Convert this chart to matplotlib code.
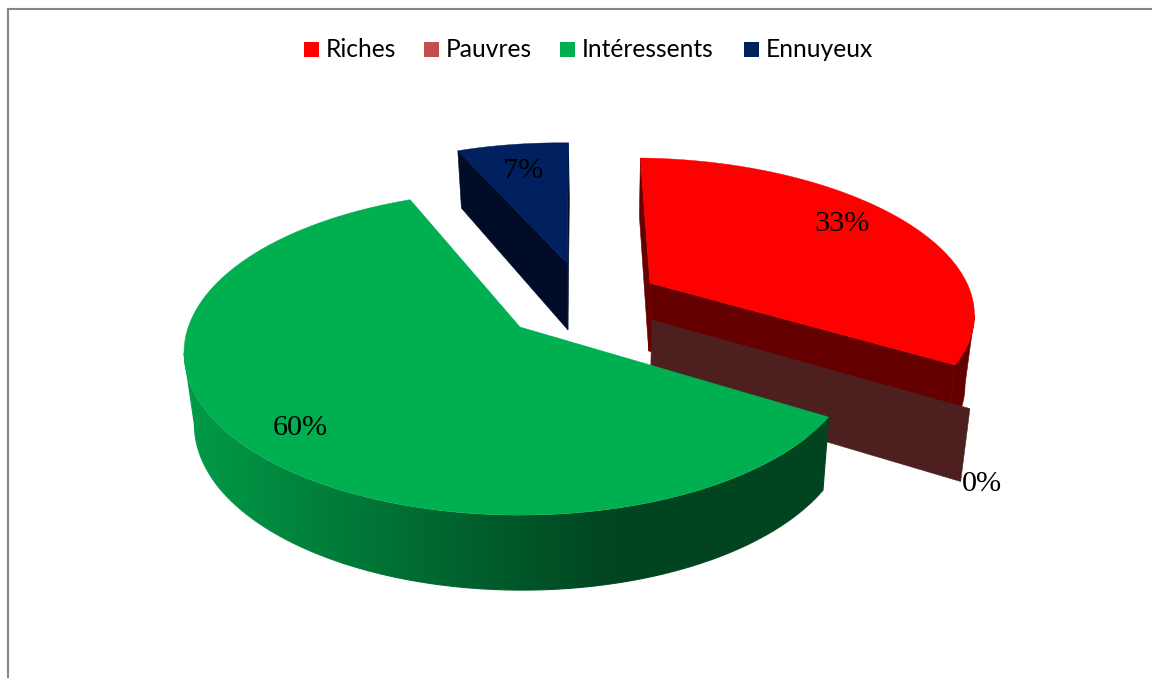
import numpy as np
import matplotlib
matplotlib.use("Agg")
import matplotlib.pyplot as plt
from matplotlib.patches import Polygon, Rectangle
from matplotlib.collections import LineCollection

# ---- data ----
categories = ["Riches", "Pauvres", "Intéressents", "Ennuyeux"]
values = [33.3, 0, 60.05, 6.65]
percent_labels = ["33%", "0%", "60%", "7%"]

# ---- styles ----
top_colors = ["#FF0000", "#C0504D", "#00B050", "#002060"]
side_colors = ["#650000", "#4D1F1F", "#00441F", "#000C28"]
explode_x = [0.410, 0.400, 0.0, 0.152]
explode_y = [-0.291, -0.045, 0.0, -0.433]
label_xy = [(842, 224), (982, 484), (300, 428), (523, 171)]
legend_marker_x = [304, 424, 560, 744]
legend_text_x = [326, 446, 582, 766]

START = 1.6
CX, CY, A, B, K = 520.0, 327.0, 331.7, 158.0, 0.16
BOTTOM_SCALE, BOTTOM_SHIFT = 0.975, 2.0


def project(X, Y):
    w = 1 - K * Y
    return A * X / w, B * Y / w


def top_pts(X, Y):
    xp, yp = project(np.asarray(X, float), np.asarray(Y, float))
    return np.column_stack([CX + xp, CY + yp])


def bottom_pts(X, Y):
    xp, yp = project(np.asarray(X, float), np.asarray(Y, float))
    depth = np.interp(yp, [-180, -64, 0, 85, 188], [57, 67, 70, 73, 75])
    return np.column_stack([CX + BOTTOM_SHIFT + BOTTOM_SCALE * xp, CY + yp + depth])


def rim(i, a0, a1, n=160):
    t = np.radians(np.linspace(a0, a1, n))
    return explode_x[i] + np.sin(t), explode_y[i] - np.cos(t)


def radial_face(ax, i, ang, z):
    tx, ty = rim(i, ang, ang, 1)
    px, py = [explode_x[i]], [explode_y[i]]
    pts = np.vstack([top_pts(px, py), top_pts(tx, ty), bottom_pts(tx, ty), bottom_pts(px, py)])
    c = side_colors[i]
    ax.add_patch(Polygon(pts, closed=True, fc=c, ec=c, lw=0.4, zorder=z))


def rim_face(ax, i, a0, a1, z):
    # only the part of the rim from the right-hand silhouette point to the slice end is visible
    X, Y = rim(i, a0, a1, 240)
    t, b = top_pts(X, Y), bottom_pts(X, Y)
    k = int(np.argmax(t[:, 0]))
    t, b = t[k:], b[k:]
    c = side_colors[i]
    ax.add_patch(Polygon(np.vstack([t, b[::-1]]), closed=True, fc=c, ec=c, lw=0.4, zorder=z))


GRAD_X = [190, 300, 470, 620, 830]
GRAD_G = [155, 132, 96, 68, 68]
GRAD_B = [72, 60, 45, 32, 32]


def shade(x):
    return np.column_stack([np.zeros_like(x), np.interp(x, GRAD_X, GRAD_G) / 255, np.interp(x, GRAD_X, GRAD_B) / 255])


def rim_face_gradient(ax, i, a0, a1, z):
    # only the part from the slice start to the left-hand silhouette point is visible
    X, Y = rim(i, a0, a1, 360)
    t, b = top_pts(X, Y), bottom_pts(X, Y)
    k = int(np.argmin(t[:, 0]))
    t, b = t[:k + 1], b[:k + 1]
    clip = Polygon(np.vstack([t, b[::-1]]), closed=True, transform=ax.transData, fc="none", ec="none")
    xs = np.arange(170.0, 850.0)
    img = shade(xs)[np.newaxis, :, :]
    im = ax.imshow(img, extent=[170, 850, 620, 300], aspect="auto", interpolation="bilinear", zorder=z)
    ax.add_patch(clip)
    im.set_clip_path(clip)
    # smooth outer outline on top of the clipped gradient
    segs = np.stack([b[:-1], b[1:]], axis=1)
    ax.add_collection(LineCollection(segs, colors=shade(segs[:, 0, 0]), linewidths=0.8, zorder=z))
    for e in (np.array([t[0], b[0]]), np.array([t[-1], b[-1]])):
        ax.plot(e[:, 0], e[:, 1], color=shade(e[:1, 0])[0], lw=0.8, zorder=z)


def top_face(ax, i, a0, a1, z):
    X, Y = rim(i, a0, a1, 200)
    pts = np.vstack([top_pts([explode_x[i]], [explode_y[i]]), top_pts(X, Y)])
    ax.add_patch(Polygon(pts, closed=True, fc=top_colors[i], ec=top_colors[i], lw=0.3, zorder=z))


fig = plt.figure(figsize=(11.52, 6.78), dpi=100, facecolor="white")
ax = fig.add_axes([0, 0, 1, 1])
ax.axis("off")

# chart frame runs past the right and bottom of the picture
ax.add_patch(Rectangle((8.3, 9.2), 1300, 800, fc="white", ec="#868686", lw=1.5, zorder=0))

edges = START + np.cumsum([0] + [v * 3.6 for v in values])

# Ennuyeux (back)
radial_face(ax, 3, edges[3], 1)
radial_face(ax, 3, edges[4], 1)
top_face(ax, 3, edges[3], edges[4], 2)

# Riches
radial_face(ax, 0, edges[0], 3)
rim_face(ax, 0, edges[0], edges[1], 3)
radial_face(ax, 0, edges[1], 3)
top_face(ax, 0, edges[0], edges[1], 4)

# Pauvres: zero-width slice, only its flat face shows
radial_face(ax, 1, edges[1], 5)

# Intéressents (front)
rim_face_gradient(ax, 2, edges[2], edges[3], 6)
top_face(ax, 2, edges[2], edges[3], 7)

for lab, (lx, ly) in zip(percent_labels, label_xy):
    ax.text(lx, ly, lab, family="Liberation Serif", fontsize=21.8, color="black",
            ha="center", va="center", zorder=10)

for name, col, mx, tx in zip(categories, top_colors, legend_marker_x, legend_text_x):
    ax.add_patch(Rectangle((mx, 42), 15, 15, fc=col, ec="none", zorder=10))
    ax.text(tx, 49.5, name, family="Lato", fontsize=17.7, color="black", ha="left", va="center", zorder=10)

ax.set_xlim(0, 1152)
ax.set_ylim(678, 0)

fig.savefig("out.png", dpi=100)
